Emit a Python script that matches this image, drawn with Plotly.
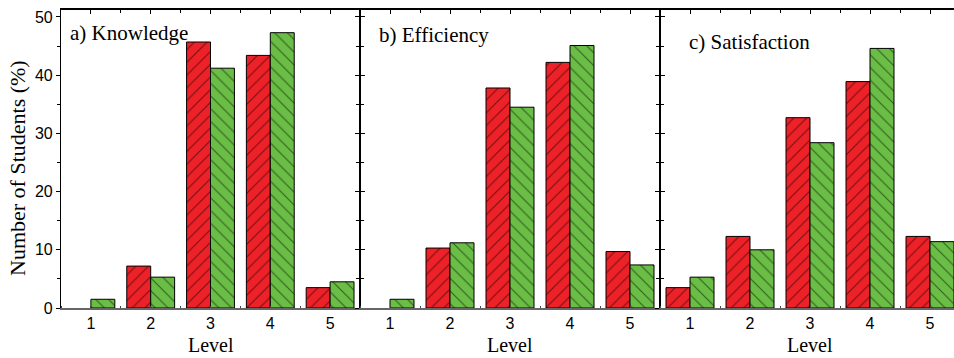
import plotly.graph_objects as go

levels = [1, 2, 3, 4, 5]
panel_labels = ["a) Knowledge", "b) Efficiency", "c) Satisfaction"]
red_knowledge = [0, 7.2, 45.7, 43.4, 3.5]
green_knowledge = [1.5, 5.3, 41.2, 47.3, 4.5]
red_efficiency = [0, 10.3, 37.8, 42.2, 9.7]
green_efficiency = [1.5, 11.2, 34.5, 45.1, 7.4]
red_satisfaction = [3.5, 12.3, 32.7, 38.9, 12.3]
green_satisfaction = [5.3, 10.0, 28.4, 44.6, 11.4]
y_ticks = [0, 10, 20, 30, 40, 50]
y_title = "Number of Students (%)"
x_title = "Level"

RED = "#ED2128"
GREEN = "#6ABD45"
W, H = 954, 358
serif = "Liberation Serif, Times New Roman, serif"
sans = "Liberation Sans, Arial, sans-serif"

reds = [red_knowledge, red_efficiency, red_satisfaction]
greens = [green_knowledge, green_efficiency, green_satisfaction]

# pixel domains
px_dom = [(61, 360), (360, 660), (660, 954)]
ranges = [[0.5, 5.5], [0.5, 5.5], [0.5, 0.5 + 294 / 60.0]]


def outline_widths(vals):
    return [0 if v == 0 else 1 for v in vals]


fig = go.Figure()
for i in range(3):
    xa = "x" if i == 0 else f"x{i+1}"
    ya = "y" if i == 0 else f"y{i+1}"
    fig.add_trace(go.Bar(
        x=levels, y=reds[i], xaxis=xa, yaxis=ya,
        marker=dict(color=RED, line=dict(color="black", width=outline_widths(reds[i])),
                    pattern=dict(shape="/", fgcolor="black", bgcolor=RED,
                                 size=9, solidity=0.12, fillmode="overlay")),
        showlegend=False, hoverinfo="skip"))
    fig.add_trace(go.Bar(
        x=levels, y=greens[i], xaxis=xa, yaxis=ya,
        marker=dict(color=GREEN, line=dict(color="black", width=outline_widths(greens[i])),
                    pattern=dict(shape="\\", fgcolor="black", bgcolor=GREEN,
                                 size=9, solidity=0.12, fillmode="overlay")),
        showlegend=False, hoverinfo="skip"))

layout = dict(
    width=W, height=H,
    margin=dict(l=0, r=0, t=10, b=50),
    paper_bgcolor="white", plot_bgcolor="white",
    barmode="group", bargap=0.2, bargroupgap=0,
    font=dict(family=sans, size=16, color="black"),
)

for i in range(3):
    n = "" if i == 0 else str(i + 1)
    d0, d1 = px_dom[i]
    layout[f"xaxis{n}"] = dict(
        domain=[d0 / W, d1 / W], range=ranges[i], anchor=f"y{n}",
        tickmode="array", tickvals=levels, ticktext=[str(v) for v in levels],
        ticks="", showline=True, linecolor="#666666", linewidth=1.5,
        showgrid=False, zeroline=False, automargin=False,
        tickfont=dict(family=sans, size=16, color="black"),
        minor=dict(ticks="inside", ticklen=2, tickmode="linear", tick0=0, dtick=0.5,
                   tickcolor="#444444", showgrid=False),
    )
    layout[f"yaxis{n}"] = dict(
        domain=[0, 1], range=[0, 51.2], anchor=f"x{n}",
        tickmode="array", tickvals=y_ticks, showticklabels=(i == 0),
        ticks="outside", ticklen=4, tickwidth=1, tickcolor="black",
        showline=True, linecolor="black", linewidth=1.2,
        mirror=("ticks" if i < 2 else False),
        showgrid=False, zeroline=False, automargin=False,
        tickfont=dict(family=sans, size=16, color="black"),
        minor=dict(ticks="outside", ticklen=3, tickmode="linear", tick0=0, dtick=5,
                   tickcolor="black", showgrid=False),
    )
    # top axis overlay
    m = str(i + 4)
    layout[f"xaxis{m}"] = dict(
        overlaying=f"x{n}", side="top", anchor=f"y{n}", range=ranges[i],
        tickmode="linear", tick0=0, dtick=1, ticks="inside", ticklen=4,
        tickcolor="black", showticklabels=False, showline=True,
        linecolor="black", linewidth=1.5, showgrid=False, zeroline=False,
        automargin=False,
        minor=dict(ticks="inside", ticklen=3, tickmode="linear", tick0=0, dtick=0.5,
                   tickcolor="black", showgrid=False),
    )

fig.update_layout(**layout)
# invisible traces to activate top axes
for i in range(3):
    n = "" if i == 0 else str(i + 1)
    fig.add_trace(go.Scatter(x=[None], y=[None], xaxis=f"x{i+4}", yaxis=f"y{n}",
                             showlegend=False, hoverinfo="skip"))

plot_h = H - 10 - 50
def py(ypix):
    return (H - 50 - ypix) / plot_h

annots = []
label_pos = [(68, 33), (377, 35), (687, 42)]
for i in range(3):
    xp, yp = label_pos[i]
    annots.append(dict(text=panel_labels[i], xref="paper", yref="paper",
                       x=xp / W, y=py(yp), xanchor="left", yanchor="middle",
                       showarrow=False, font=dict(family=serif, size=21, color="black")))
    n = "" if i == 0 else str(i + 1)
    annots.append(dict(text=x_title, xref=f"x{n}", yref="paper", x=3, y=py(345),
                       xanchor="center", yanchor="middle", showarrow=False,
                       font=dict(family=serif, size=20, color="black")))
annots.append(dict(text=y_title, xref="paper", yref="paper", x=17 / W, y=py(168),
                   textangle=-90, xanchor="center", yanchor="middle", showarrow=False,
                   font=dict(family=serif, size=22, color="black")))
fig.update_layout(annotations=annots)

fig.write_html("out.html", config={"displayModeBar": False},
               post_script="document.body.style.margin='0';document.body.style.padding='0';document.body.style.overflow='hidden';")
